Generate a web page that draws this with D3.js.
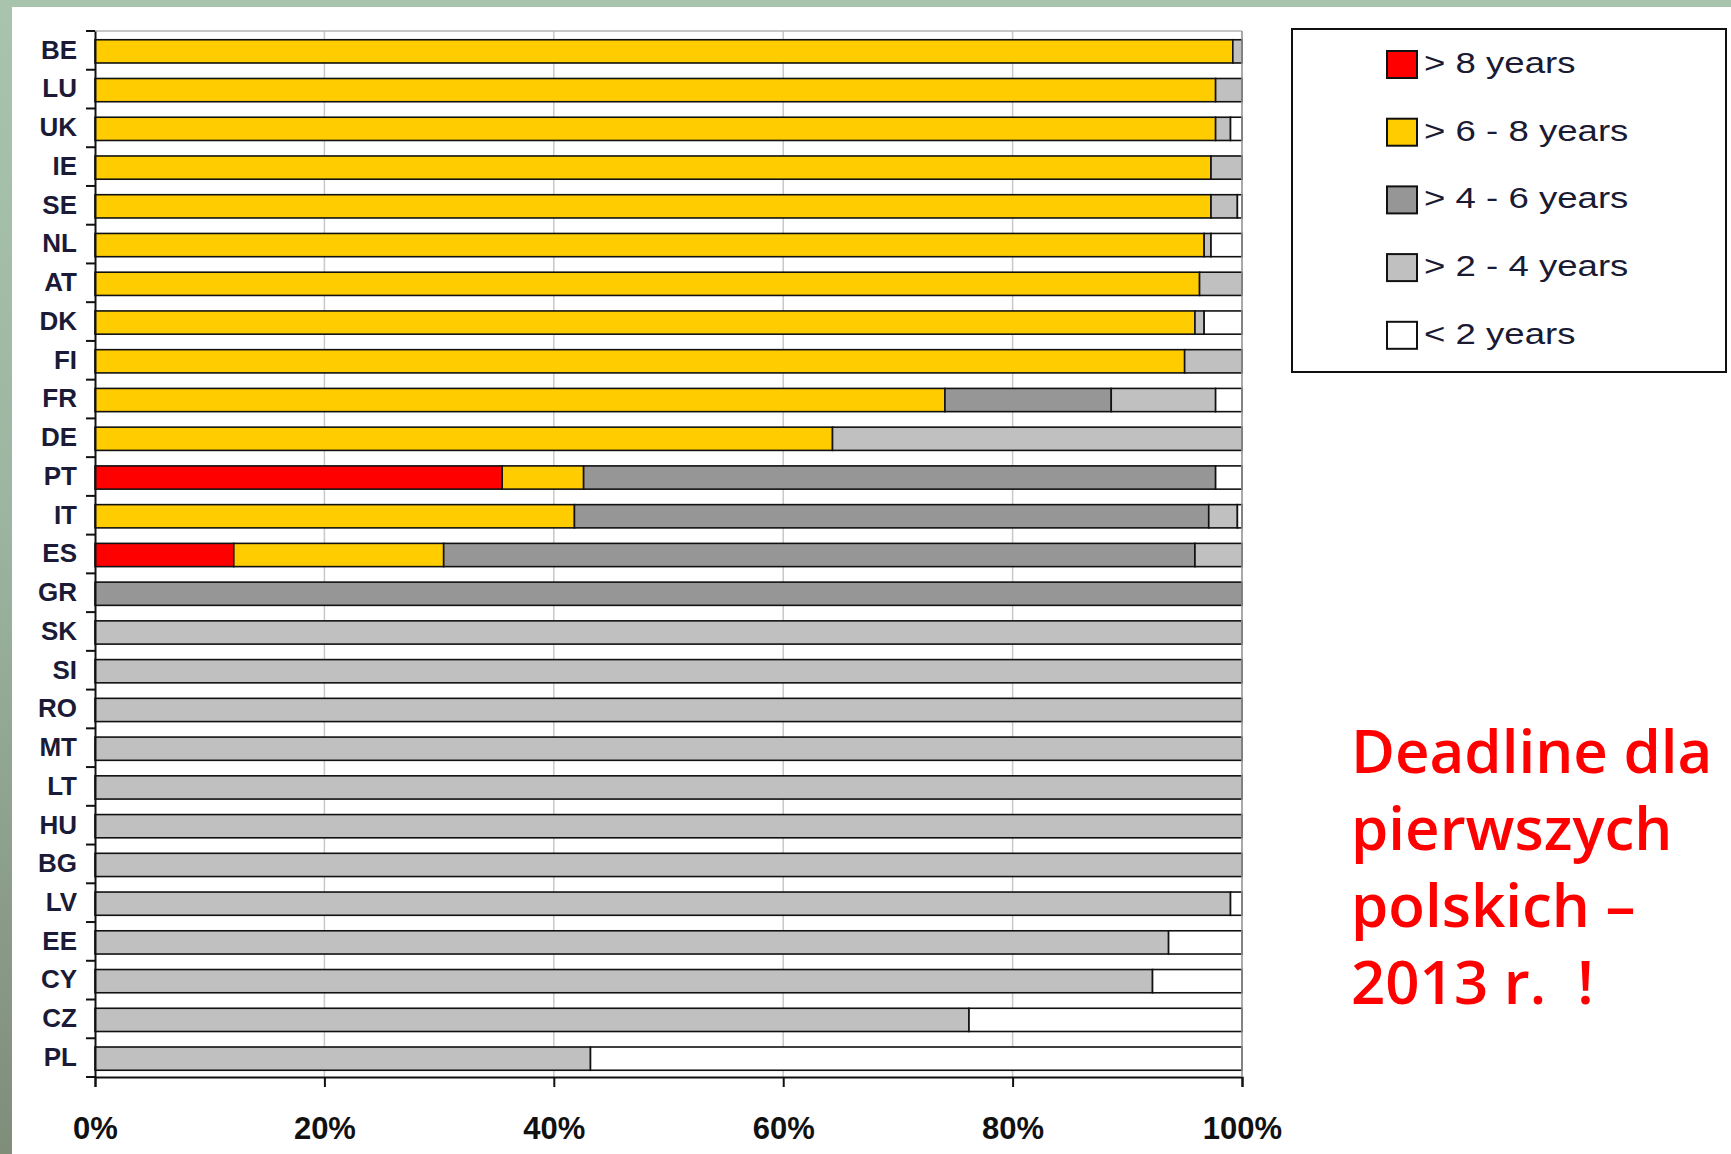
<!DOCTYPE html>
<html>
<head>
<meta charset="utf-8">
<script src="https://cdn.jsdelivr.net/npm/d3@7"></script>
<style>
  html, body { margin: 0; padding: 0; background: #9fb39f; }
  svg { display: block; }
</style>
</head>
<body>
<svg id="chart" width="1731" height="1154"></svg>
<script>
// data, share of each country in %
var countries = ["BE", "LU", "UK", "IE", "SE", "NL", "AT", "DK", "FI", "FR", "DE", "PT", "IT", "ES",
    "GR", "SK", "SI", "RO", "MT", "LT", "HU", "BG", "LV", "EE", "CY", "CZ", "PL"];
var over8 = [0, 0, 0, 0, 0, 0, 0, 0, 0, 0, 0, 35.5, 0, 12.1,
    0, 0, 0, 0, 0, 0, 0, 0, 0, 0, 0, 0, 0];
var from6to8 = [99.2, 97.7, 97.7, 97.3, 97.3, 96.7, 96.3, 95.9, 95.0, 74.1, 64.3, 7.1, 41.8, 18.3,
    0, 0, 0, 0, 0, 0, 0, 0, 0, 0, 0, 0, 0];
var from4to6 = [0, 0, 0, 0, 0, 0, 0, 0, 0, 14.5, 0, 55.1, 55.3, 65.5,
    100, 0, 0, 0, 0, 0, 0, 0, 0, 0, 0, 0, 0];
var from2to4 = [0.8, 2.3, 1.3, 2.7, 2.3, 0.6, 3.7, 0.8, 5.0, 9.1, 35.7, 0, 2.5, 4.1,
    0, 100, 100, 100, 100, 100, 100, 100, 99.0, 93.6, 92.2, 76.2, 43.2];
var under2 = [0, 0, 1.0, 0, 0.4, 2.7, 0, 3.3, 0, 2.3, 0, 2.3, 0.4, 0,
    0, 0, 0, 0, 0, 0, 0, 0, 1.0, 6.4, 7.8, 23.8, 56.8];
var seriesKeys = ["over8", "from6to8", "from4to6", "from2to4", "under2"];
var seriesLabels = ["> 8 years", "> 6 - 8 years", "> 4 - 6 years", "> 2 - 4 years", "< 2 years"];
var seriesColors = ["#ff0000", "#ffcc00", "#969696", "#c0c0c0", "#ffffff"];
var xTicks = [0, 20, 40, 60, 80, 100];

var svg = d3.select("#chart"),
    margin = { left: 95, top: 31, right: 1242, bottom: 1077 };

// slide background + white sheet
var defs = svg.append("defs");
var grad = defs.append("linearGradient")
    .attr("id", "slideBg")
    .attr("x1", 0).attr("y1", 0).attr("x2", 0).attr("y2", 1);
grad.append("stop").attr("offset", "0%").attr("stop-color", "#a9c4ad");
grad.append("stop").attr("offset", "45%").attr("stop-color", "#9cb5a0");
grad.append("stop").attr("offset", "100%").attr("stop-color", "#7f8d79");

svg.append("rect")
    .attr("width", 1731).attr("height", 1154)
    .attr("fill", "url(#slideBg)");
svg.append("rect")
    .attr("x", 12).attr("y", 7)
    .attr("width", 1731 - 12).attr("height", 1154 - 7)
    .attr("fill", "#ffffff");

var table = countries.map(function (c, i) {
    return {
        country: c,
        over8: over8[i],
        from6to8: from6to8[i],
        from4to6: from4to6[i],
        from2to4: from2to4[i],
        under2: under2[i]
    };
});

var x = d3.scaleLinear()
    .domain([0, 100])
    .range([margin.left, margin.right]);

var y = d3.scaleBand()
    .domain(countries)
    .range([margin.top, margin.bottom])
    .paddingInner(0.4)
    .paddingOuter(0.2);

var color = d3.scaleOrdinal()
    .domain(seriesKeys)
    .range(seriesColors);

// grid lines
svg.append("g")
    .selectAll("line")
    .data(xTicks.slice(1))
    .join("line")
    .attr("x1", function (d) { return x(d); })
    .attr("x2", function (d) { return x(d); })
    .attr("y1", margin.top)
    .attr("y2", margin.bottom)
    .attr("stroke", "#c8c8c8")
    .attr("stroke-width", 1.5);

svg.append("line")
    .attr("x1", margin.left).attr("x2", margin.right)
    .attr("y1", margin.top).attr("y2", margin.top)
    .attr("stroke", "#b4b4b4")
    .attr("stroke-width", 1.5);

// stacked bars
var stacked = d3.stack().keys(seriesKeys)(table);

svg.append("g")
    .selectAll("g")
    .data(stacked)
    .join("g")
    .attr("fill", function (d) { return color(d.key); })
    .selectAll("rect")
    .data(function (d) { return d.filter(function (s) { return s[1] - s[0] > 0; }); })
    .join("rect")
    .attr("x", function (d) { return x(d[0]); })
    .attr("y", function (d) { return y(d.data.country) + 1; })
    .attr("width", function (d) { return x(d[1]) - x(d[0]); })
    .attr("height", y.bandwidth())
    .attr("stroke", "#111")
    .attr("stroke-width", 1.6);

// axes
var yAxis = d3.axisLeft(y).tickSize(0).tickPadding(18);
var yAxisG = svg.append("g")
    .attr("transform", "translate(" + margin.left + ",0)")
    .call(yAxis);
yAxisG.select(".domain").attr("stroke", "#111").attr("stroke-width", 2);
yAxisG.selectAll("text")
    .attr("font-family", "'Liberation Sans', Arial, sans-serif")
    .attr("font-weight", "bold")
    .attr("font-size", 26)
    .attr("fill", "#1b1b38");

// category boundary ticks
svg.append("g")
    .selectAll("line")
    .data(d3.range(countries.length + 1))
    .join("line")
    .attr("x1", margin.left - 9)
    .attr("x2", margin.left)
    .attr("y1", function (i) { return margin.top + i * y.step(); })
    .attr("y2", function (i) { return margin.top + i * y.step(); })
    .attr("stroke", "#111")
    .attr("stroke-width", 2);

var xAxis = d3.axisBottom(x)
    .tickValues(xTicks)
    .tickSize(10)
    .tickPadding(30)
    .tickFormat(function (d) { return d + "%"; });
var xAxisG = svg.append("g")
    .attr("transform", "translate(0," + margin.bottom + ")")
    .call(xAxis);
xAxisG.select(".domain").attr("stroke", "#111").attr("stroke-width", 2);
xAxisG.selectAll(".tick line").attr("stroke", "#111").attr("stroke-width", 2);
xAxisG.selectAll("text")
    .attr("font-family", "'Liberation Sans', Arial, sans-serif")
    .attr("font-weight", "bold")
    .attr("font-size", 31)
    .attr("fill", "#111");

// right frame of plot
svg.append("line")
    .attr("x1", margin.right).attr("x2", margin.right)
    .attr("y1", margin.top).attr("y2", margin.bottom)
    .attr("stroke", "#9a9a9a")
    .attr("stroke-width", 1.5);

// legend
var legend = svg.append("g");
legend.append("rect")
    .attr("x", 1292).attr("y", 29)
    .attr("width", 434).attr("height", 343)
    .attr("fill", "#fff")
    .attr("stroke", "#111")
    .attr("stroke-width", 2);

var rowStep = 67.7;
var items = legend.selectAll("g.item")
    .data(seriesKeys)
    .join("g")
    .attr("class", "item")
    .attr("transform", function (d, i) { return "translate(1387," + (64 + i * rowStep) + ")"; });

items.append("rect")
    .attr("x", 0).attr("y", -13)
    .attr("width", 30).attr("height", 27)
    .attr("fill", function (d) { return color(d); })
    .attr("stroke", "#111")
    .attr("stroke-width", 2);

items.append("text")
    .attr("transform", "translate(37,9) scale(1.22,1)")
    .attr("font-family", "'Liberation Sans', Arial, sans-serif")
    .attr("font-size", 30)
    .attr("fill", "#1a1a33")
    .text(function (d, i) { return seriesLabels[i]; });

// annotation
var note = ["Deadline dla", "pierwszych", "polskich \u2013", "2013 r.\u00a0\u00a0!"];
svg.append("text")
    .attr("x", 1351)
    .attr("y", 773)
    .attr("font-family", "'Open Sans', 'DejaVu Sans', sans-serif")
    .attr("font-weight", 600)
    .attr("font-size", 60)
    .attr("fill", "#ff0000")
    .selectAll("tspan")
    .data(note)
    .join("tspan")
    .attr("x", 1351)
    .attr("dy", function (d, i) { return i === 0 ? 0 : 77; })
    .text(function (d) { return d; });
</script>
</body>
</html>
